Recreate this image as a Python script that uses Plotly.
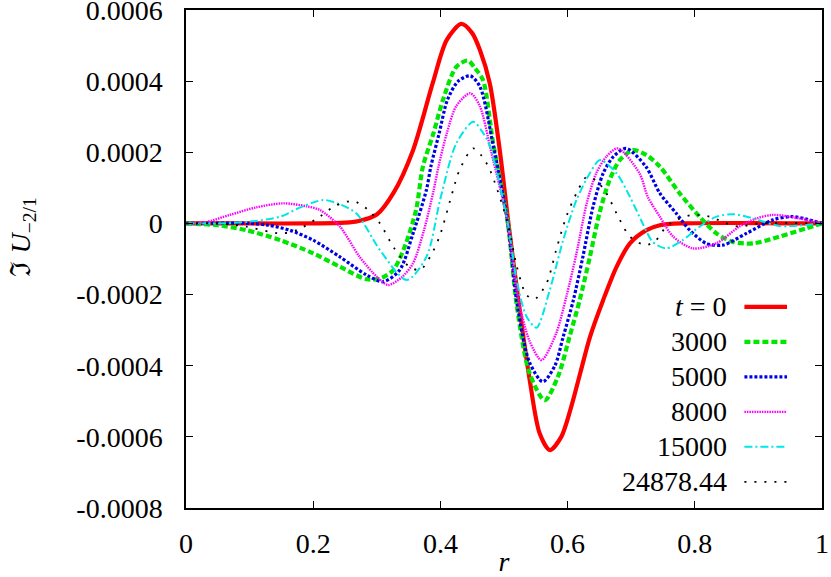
import plotly.graph_objects as go

# values in units of 1e-4
SCALE = 1e-4

labels = ["<i>t</i> = 0", "3000", "5000", "8000", "15000", "24878.44"]
colors = ["#ff0000", "#00e600", "#0000e6", "#ff00ff", "#00e6e6", "#000000"]
widths = [4.2, 4.2, 3.2, 2.4, 2, 1.8]
dashes = ["solid", "6px,3px", "3px,2px", "1.5px,1px", "8px,3px,2px,3px", "2px,8px"]

r_t0 = [0, 0.1, 0.2, 0.25, 0.27, 0.3, 0.326, 0.357, 0.388, 0.41, 0.433, 0.45, 0.462,
        0.4776, 0.4933, 0.507, 0.5247, 0.5404, 0.556, 0.572, 0.59, 0.605, 0.62, 0.635,
        0.656, 0.677, 0.698, 0.724, 0.745, 0.78, 1.0]
u_t0 = [0, 0, 0, 0.02, 0.06, 0.25, 0.85, 2.06, 3.95, 5.16, 5.61, 5.35, 4.88,
        3.94, 2.06, 0, -2.44, -4.4, -5.9, -6.37, -6.0, -5.2, -4.2, -3.2,
        -2.15, -1.22, -0.56, -0.19, -0.05, 0, 0]

r_3000 = [0, 0.05, 0.095, 0.148, 0.2, 0.242, 0.284, 0.305, 0.326, 0.345, 0.362, 0.3725,
          0.389, 0.404, 0.425, 0.443, 0.455, 0.467, 0.483, 0.506, 0.52, 0.54, 0.564, 0.585,
          0.603, 0.619, 0.635, 0.65, 0.666, 0.682, 0.703, 0.724, 0.745, 0.776, 0.8075,
          0.834, 0.86, 0.892, 0.933, 0.975, 1.0]
u_3000 = [0, -0.05, -0.19, -0.47, -0.84, -1.22, -1.57, -1.55, -1.31, -0.6, 0.4, 1.6,
          2.53, 3.47, 4.4, 4.58, 4.35, 4.03, 2.25, 0, -2.3, -4.2, -4.97, -4.3,
          -3.19, -2.16, -0.94, 0.28, 1.22, 1.78, 2.06, 1.92, 1.6, 0.85, 0.19,
          -0.28, -0.52, -0.56, -0.37, -0.14, 0]

r_5000 = [0, 0.1, 0.13, 0.163, 0.2, 0.242, 0.284, 0.31, 0.336, 0.357, 0.378, 0.385,
          0.398, 0.411, 0.428, 0.447, 0.462, 0.483, 0.506, 0.52, 0.54, 0.561, 0.58, 0.593,
          0.609, 0.624, 0.64, 0.656, 0.672, 0.692, 0.723, 0.745, 0.771, 0.792, 0.818,
          0.844, 0.881, 0.923, 0.954, 1.0]
u_5000 = [0, 0, -0.05, -0.19, -0.47, -0.94, -1.45, -1.64, -1.31, -0.28, 0.94, 1.6,
          2.53, 3.47, 4.0, 4.15, 3.85, 2.2, 0, -2.2, -3.9, -4.45, -4.0, -3.19,
          -2.16, -0.94, 0.47, 1.41, 1.88, 2.11, 1.6, 0.85, 0.28, -0.19, -0.56,
          -0.61, -0.28, 0.1, 0.19, 0]

r_8000 = [0, 0.03, 0.069, 0.11, 0.153, 0.19, 0.2105, 0.242, 0.273, 0.3, 0.318, 0.34,
          0.357, 0.374, 0.389, 0.397, 0.41, 0.425, 0.447, 0.462, 0.48, 0.506, 0.52, 0.54,
          0.559, 0.582, 0.598, 0.614, 0.63, 0.645, 0.661, 0.679, 0.713, 0.726, 0.745,
          0.766, 0.797, 0.834, 0.87, 0.897, 0.923, 0.965, 1.0]
u_8000 = [0, 0.03, 0.24, 0.45, 0.565, 0.48, 0.377, -0.09, -0.94, -1.5, -1.73, -1.5,
          -1.12, -0.2, 0.9, 1.6, 2.53, 3.3, 3.66, 3.3, 2.0, 0, -1.9, -3.3,
          -3.84, -3.09, -2.06, -0.84, 0.56, 1.41, 1.88, 2.11, 1.41, 0.75, 0.19,
          -0.37, -0.7, -0.56, -0.09, 0.14, 0.24, 0.14, 0]

r_15000 = [0, 0.05, 0.1, 0.148, 0.18, 0.216, 0.24, 0.268, 0.305, 0.347, 0.378, 0.4,
           0.425, 0.4515, 0.465, 0.478, 0.506, 0.52, 0.535, 0.551, 0.572, 0.593, 0.614,
           0.635, 0.651, 0.677, 0.698, 0.718, 0.734, 0.755, 0.781, 0.8075, 0.834, 0.86,
           0.892, 0.933, 1.0]
u_15000 = [0, 0, 0.05, 0.19, 0.45, 0.66, 0.55, 0.28, -0.75, -1.59, -0.94, 0.7,
           2.25, 2.86, 2.6, 2.16, 0, -1.6, -2.6, -2.93, -1.87, -0.47, 0.66,
           1.41, 1.78, 1.41, 0.75, 0, -0.52, -0.7, -0.47, -0.09, 0.19, 0.26,
           0.14, -0.07, 0]

r_24878 = [0, 0.05, 0.095, 0.148, 0.174, 0.2105, 0.235, 0.263, 0.285, 0.305, 0.326,
           0.35, 0.368, 0.385, 0.399, 0.42, 0.43, 0.4515, 0.465, 0.478, 0.506, 0.52,
           0.535, 0.548, 0.567, 0.582, 0.598, 0.614, 0.63, 0.645, 0.661, 0.677, 0.698,
           0.723, 0.739, 0.755, 0.771, 0.797, 0.823, 0.85, 0.87, 0.9, 1.0]
u_24878 = [0, 0, -0.09, -0.28, -0.19, 0.19, 0.5, 0.63, 0.4, 0, -0.66,
           -1.2, -1.31, -0.9, -0.35, 0.94, 1.5, 2.11, 1.9, 1.5, 0, -1.2,
           -2.0, -2.13, -1.68, -0.75, 0.19, 0.85, 1.31, 1.2, 0.85, 0.28, -0.37,
           -0.61, -0.47, -0.09, 0.1, 0.24, 0.19, 0, -0.09, 0, 0]

series_r = [r_t0, r_3000, r_5000, r_8000, r_15000, r_24878]
series_u = [u_t0, u_3000, u_5000, u_8000, u_15000, u_24878]

x_ticks = [0, 0.2, 0.4, 0.6, 0.8, 1]
x_ticktext = ["0", "0.2", "0.4", "0.6", "0.8", "1"]
y_ticks = [-0.0008, -0.0006, -0.0004, -0.0002, 0, 0.0002, 0.0004, 0.0006]
y_ticktext = ["-0.0008", "-0.0006", "-0.0004", "-0.0002", "0", "0.0002", "0.0004", "0.0006"]

FONT = "Liberation Serif, DejaVu Serif, serif"

fig = go.Figure()
for r, u, name, c, w, d in zip(series_r, series_u, labels, colors, widths, dashes):
    fig.add_trace(go.Scatter(
        x=r, y=[v * SCALE for v in u], mode="lines", name=name,
        line=dict(color=c, width=w, dash=d, shape="spline", smoothing=0.8),
        showlegend=False))

# gnuplot-style key: right-aligned text, sample line to the right
row0, row_step = 0.404, 0.0703   # paper y of first row and spacing
for i, (name, c, w, d) in enumerate(zip(labels, colors, widths, dashes)):
    yy = row0 - i * row_step
    fig.add_annotation(x=0.853, y=yy, xref="paper", yref="paper", text=name,
                       showarrow=False, xanchor="right", yanchor="middle",
                       font=dict(family=FONT, size=28, color="black"))
    fig.add_shape(type="line", xref="paper", yref="paper",
                  x0=0.878, x1=0.945, y0=yy, y1=yy,
                  line=dict(color=c, width=w, dash=d))

fig.add_annotation(x=-0.287, y=0.545, xref="paper", yref="paper",
                   text="ℑ <i>U</i><sub>−2/1</sub>", textangle=-90, showarrow=False,
                   font=dict(family=FONT, size=28, color="black"))

axis_common = dict(showgrid=False, zeroline=False, showline=True, linecolor="black",
                   linewidth=1.5, mirror="allticks", ticks="inside", ticklen=7,
                   tickwidth=1, tickcolor="black", automargin=False,
                   ticklabeloverflow="allow",
                   tickfont=dict(family=FONT, size=28, color="black"))

fig.update_xaxes(range=[0, 1], tickvals=x_ticks, ticktext=x_ticktext,
                 ticklabelstandoff=10,
                 title=dict(text="<i>r</i>", font=dict(family=FONT, size=28, color="black"),
                            standoff=2),
                 **axis_common)
fig.update_yaxes(range=[-0.00080001, 0.00060001], tickvals=y_ticks, ticktext=y_ticktext,
                 ticklabelstandoff=16, **axis_common)

fig.update_layout(width=831, height=577, margin=dict(l=186, r=9, t=10, b=69),
                  plot_bgcolor="white", paper_bgcolor="white",
                  font=dict(family=FONT, color="black"))

fig.write_html("out.html", config={"displayModeBar": False},
               post_script="document.body.style.margin='0';")
